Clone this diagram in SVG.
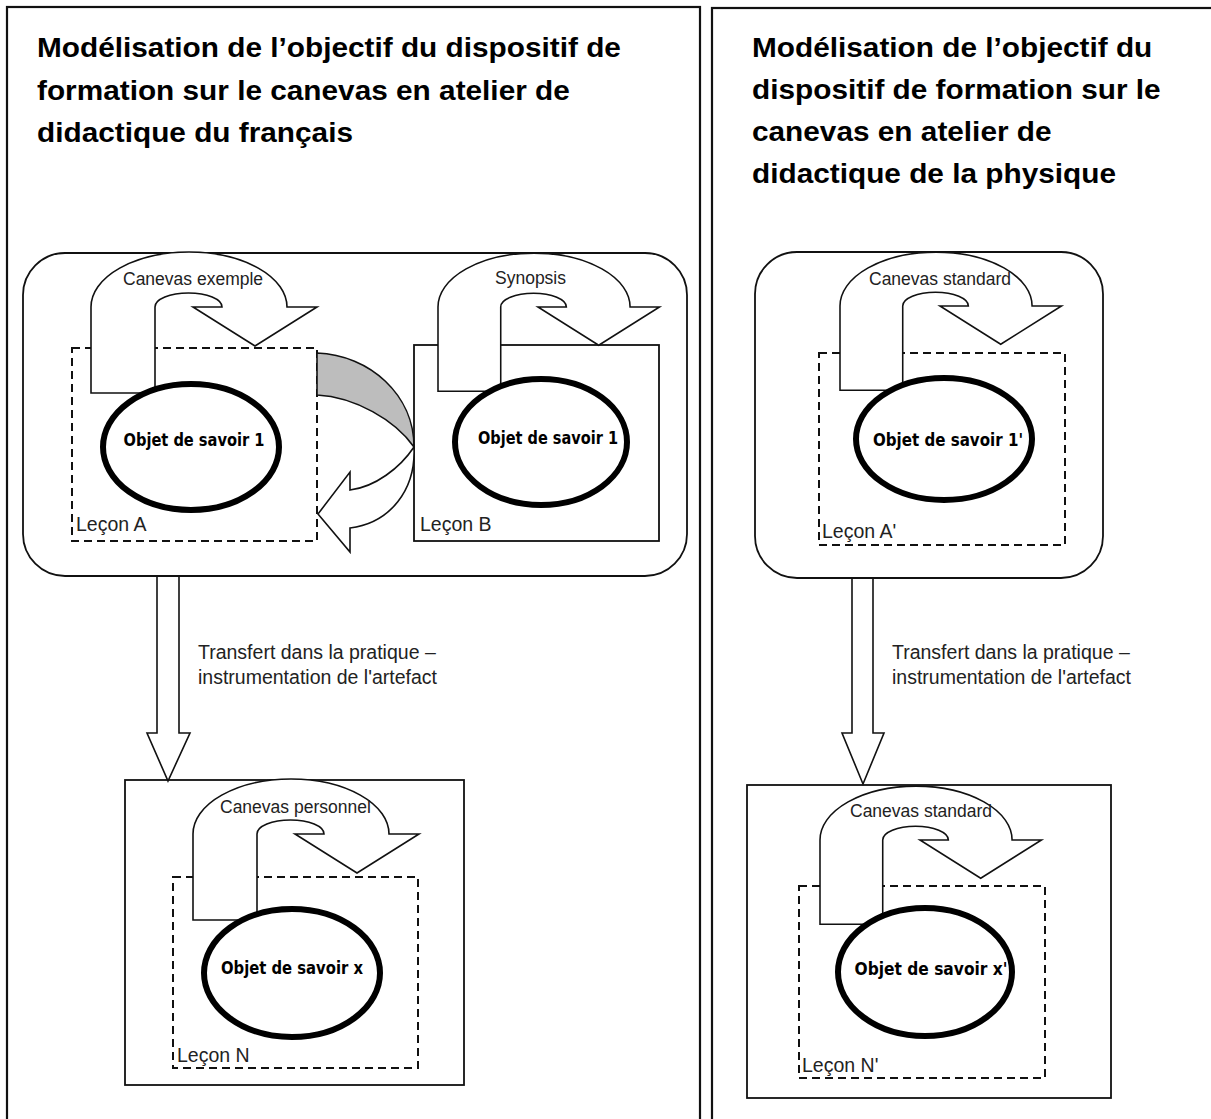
<svg xmlns="http://www.w3.org/2000/svg" xmlns:xlink="http://www.w3.org/1999/xlink" width="1211" height="1119" viewBox="0 0 1211 1119">
<style>
.panel{fill:#fff;stroke:#111;stroke-width:2.2}
.rr{fill:#fff;stroke:#111;stroke-width:1.8}
.box{fill:#fff;stroke:#111;stroke-width:1.8}
.dash{fill:none;stroke:#111;stroke-width:2;stroke-dasharray:8 5}
.uarrow{fill:#fff;stroke:#111;stroke-width:1.6;stroke-linejoin:miter}
.obj{fill:#fff;stroke:#000;stroke-width:6}
.objt{font-family:"DejaVu Sans",sans-serif;font-weight:bold;font-size:17px;fill:#000}
.title{font-family:"Liberation Sans",Arial,sans-serif;font-weight:bold;font-size:28px;fill:#000}
.lbl{font-family:"Liberation Sans",Arial,sans-serif;font-size:17.5px;fill:#222}
.lecon{font-family:"Liberation Sans",Arial,sans-serif;font-size:19.5px;fill:#222}
.tr{font-family:"Liberation Sans",Arial,sans-serif;font-size:19.5px;fill:#222}
.conn{fill:#fff;stroke:#111;stroke-width:1.6}
.grey{fill:#bdbdbd;stroke:#111;stroke-width:1.6}
</style>
<defs>
<path id="uarr" d="M0,86 L0,0 A98,55 0 0 1 196,0 L226,0 L164,39 L102,0 L131,0 A33.5,14 0 0 0 64,0 L64,86 Z"/>
</defs>

<g id="panel-left">
<rect class="panel" x="7" y="7" width="693" height="1130"/>
<g transform="translate(37,0) scale(1.064,1)">
<text class="title" x="0" y="57">Modélisation de l’objectif du dispositif de</text>
<text class="title" x="0" y="100">formation sur le canevas en atelier de</text>
<text class="title" x="0" y="142">didactique du français</text>
</g>
</g>

<g id="panel-right">
<rect class="panel" x="712" y="8" width="520" height="1130"/>
<g transform="translate(752,0) scale(1.064,1)">
<text class="title" x="0" y="57">Modélisation de l’objectif du</text>
<text class="title" x="0" y="99">dispositif de formation sur le</text>
<text class="title" x="0" y="141">canevas en atelier de</text>
<text class="title" x="0" y="183">didactique de la physique</text>
</g>
</g>

<g id="atelier-francais">
<rect class="rr" x="23" y="253" width="664" height="323" rx="42" ry="42"/>
</g>

<g id="lecon-a">
<rect class="dash" x="72" y="348" width="245" height="193"/>
<use xlink:href="#uarr" class="uarrow" transform="translate(91,307)"/>
<text class="lbl" x="123" y="285">Canevas exemple</text>
<ellipse class="obj" cx="191" cy="447" rx="88" ry="63"/>
<text class="objt" x="194" y="446" text-anchor="middle" textLength="141" lengthAdjust="spacingAndGlyphs">Objet de savoir 1</text>
<text class="lecon" x="76" y="531">Leçon A</text>
</g>

<g id="lecon-b">
<rect class="box" x="414" y="345" width="245" height="196"/>
<use xlink:href="#uarr" class="uarrow" transform="translate(438,307) scale(0.98)"/>
<text class="lbl" x="495" y="284">Synopsis</text>
<ellipse class="obj" cx="541" cy="442" rx="86" ry="63"/>
<text class="objt" x="548" y="444" text-anchor="middle" textLength="140" lengthAdjust="spacingAndGlyphs">Objet de savoir 1</text>
<text class="lecon" x="420" y="531">Leçon B</text>
</g>

<g id="lecon-n">
<rect class="box" x="125" y="780" width="339" height="305"/>
<rect class="dash" x="173" y="877" width="245" height="191"/>
<use xlink:href="#uarr" class="uarrow" transform="translate(193,834)"/>
<text class="lbl" x="220" y="813">Canevas personnel</text>
<ellipse class="obj" cx="292" cy="973" rx="88" ry="64"/>
<text class="objt" x="292" y="974" text-anchor="middle" textLength="142" lengthAdjust="spacingAndGlyphs">Objet de savoir x</text>
<text class="lecon" x="177" y="1062">Leçon N</text>
</g>

<g id="atelier-physique">
<rect class="rr" x="755" y="252" width="348" height="326" rx="42" ry="42"/>
</g>

<g id="lecon-a-prime">
<rect class="dash" x="819" y="353" width="246" height="192"/>
<use xlink:href="#uarr" class="uarrow" transform="translate(840,306) scale(0.98)"/>
<text class="lbl" x="869" y="285">Canevas standard</text>
<ellipse class="obj" cx="944" cy="439" rx="88" ry="61"/>
<text class="objt" x="948" y="446" text-anchor="middle" textLength="150" lengthAdjust="spacingAndGlyphs">Objet de savoir 1'</text>
<text class="lecon" x="822" y="538">Leçon A'</text>
</g>

<g id="lecon-n-prime">
<rect class="box" x="747" y="785" width="364" height="313"/>
<rect class="dash" x="799" y="886" width="246" height="192"/>
<use xlink:href="#uarr" class="uarrow" transform="translate(820,840) scale(0.98)"/>
<text class="lbl" x="850" y="817">Canevas standard</text>
<ellipse class="obj" cx="925" cy="972" rx="87" ry="64"/>
<text class="objt" x="931" y="975" text-anchor="middle" textLength="153" lengthAdjust="spacingAndGlyphs">Objet de savoir x'</text>
<text class="lecon" x="802" y="1072">Leçon N'</text>
</g>

<g id="connectors">
<path class="grey" d="M317,353 C370,355 414,395 414,447 C395,420 355,397 317,395 Z"/>
<path class="conn" d="M414,447 C400,468 375,487 350,490 L350,472 L318,514 L350,552 L350,528 C390,523 416,490 414,447 Z"/>
<path class="conn" d="M157,577 L157,733 L147,733 L168,781 L190,733 L179,733 L179,577"/>
<text class="tr" x="198" y="659">Transfert dans la pratique –</text>
<text class="tr" x="198" y="684">instrumentation de l'artefact</text>
<path class="conn" d="M852,579 L852,733 L842,733 L863,784 L884,733 L873,733 L873,579"/>
<text class="tr" x="892" y="659">Transfert dans la pratique –</text>
<text class="tr" x="892" y="684">instrumentation de l'artefact</text>
</g>
</svg>
